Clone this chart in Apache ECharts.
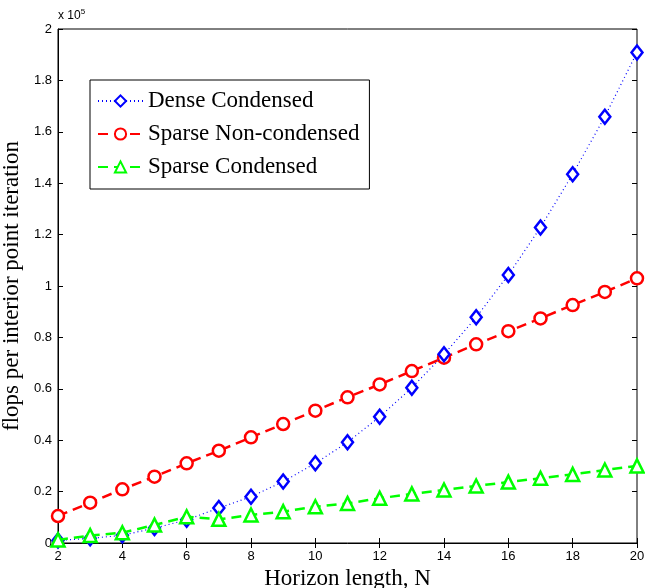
<!DOCTYPE html>
<html>
<head>
<meta charset="utf-8">
<script src="https://cdn.jsdelivr.net/npm/echarts@6/dist/echarts.min.js"></script>
<style>
  html, body { margin: 0; padding: 0; background: #fff; }
  #chart { width: 645px; height: 588px; }
</style>
</head>
<body>
<div id="chart"></div>
<script>
// horizon length N
const horizon = [2, 3, 4, 5, 6, 7, 8, 9, 10, 11, 12, 13, 14, 15, 16, 17, 18, 19, 20]

// flops per interior point iteration
const denseCondensed = [1000, 1800, 3000, 5800, 9000, 13600, 18000, 23900, 31000, 39200,
  49100, 60400, 73400, 87800, 104300, 122800, 143500, 165900, 190900]
const sparseNonCondensed = [10500, 15700, 20900, 25800, 31000, 35900, 41100, 46300, 51500, 56700,
  61700, 66900, 72100, 77300, 82400, 87400, 92600, 97700, 103000]
const sparseCondensed = [1200, 2900, 4000, 7000, 10200, 9200, 10900, 12200, 14100, 15400,
  17400, 19100, 20600, 22200, 23700, 25200, 26700, 28400, 30000]

const SERIF = '"Liberation Serif", "DejaVu Serif", serif'
const SANS = '"Liberation Sans", Arial, sans-serif'

const chart = echarts.init(document.getElementById('chart'))

const pairs = (ys) => horizon.map((x, i) => [x, ys[i]])

const tickStyle = { inside: true, length: 5, lineStyle: { color: '#000', width: 1 } }

const option = {
  animation: false,
  backgroundColor: '#fff',
  grid: {
    left: 58, right: 8, top: 29, bottom: 45,
    outerBoundsMode: 'none',
    containLabel: false,
    show: true, borderColor: '#000', borderWidth: 1, backgroundColor: 'transparent'
  },
  graphic: [{
    type: 'text',
    left: 58,
    top: 8,
    style: {
      text: 'x 10{sup|5}',
      fill: '#000',
      font: '12px ' + SANS,
      rich: { sup: { fontSize: 8, verticalAlign: 'top', padding: [0, 0, 8, 0], fontFamily: SANS } }
    }
  }],
  legend: {
    left: 90, top: 80,
    orient: 'vertical',
    itemWidth: 45, itemHeight: 14, itemGap: 9,
    padding: [9, 10, 10, 7],
    backgroundColor: '#fff',
    borderColor: '#000', borderWidth: 1,
    textStyle: { fontFamily: SERIF, fontSize: 23, lineHeight: 24, color: '#000' },
    data: ['Dense Condensed', 'Sparse Non-condensed', 'Sparse Condensed']
  },
  xAxis: [{
    type: 'value', min: 2, max: 20, interval: 2,
    name: 'Horizon length, N', nameLocation: 'middle', nameGap: 23,
    nameTextStyle: { fontFamily: SERIF, fontSize: 23, color: '#000' },
    axisLine: { show: true, lineStyle: { color: '#000' } },
    axisTick: tickStyle,
    axisLabel: { fontFamily: SANS, fontSize: 13, color: '#000', margin: 7 },
    splitLine: { show: false }
  }, {
    type: 'value', min: 2, max: 20, interval: 2, position: 'top',
    axisLine: { show: false }, axisTick: tickStyle,
    axisLabel: { show: false }, splitLine: { show: false }
  }],
  yAxis: [{
    type: 'value', min: 0, max: 200000, interval: 20000,
    name: 'flops per interior point iteration', nameLocation: 'middle', nameGap: 31,
    nameTextStyle: { fontFamily: SERIF, fontSize: 23, color: '#000' },
    axisLine: { show: true, lineStyle: { color: '#000' } },
    axisTick: tickStyle,
    axisLabel: {
      fontFamily: SANS, fontSize: 13, color: '#000', margin: 6,
      formatter: (v) => String(+(v / 1e5).toFixed(1))
    },
    splitLine: { show: false }
  }, {
    type: 'value', min: 0, max: 200000, interval: 20000, position: 'right',
    axisLine: { show: false }, axisTick: tickStyle,
    axisLabel: { show: false }, splitLine: { show: false }
  }],
  series: [{
    name: 'Dense Condensed',
    type: 'line',
    data: pairs(denseCondensed),
    symbol: 'diamond', symbolSize: [11, 14],
    lineStyle: { color: '#0000ff', width: 1.2, type: [1, 3] },
    itemStyle: { color: '#fff', borderColor: '#0000ff', borderWidth: 2.5 },
    z: 3
  }, {
    name: 'Sparse Non-condensed',
    type: 'line',
    data: pairs(sparseNonCondensed),
    symbol: 'circle', symbolSize: 12,
    lineStyle: { color: '#ff0000', width: 2.5, type: [10, 6] },
    itemStyle: { color: '#fff', borderColor: '#ff0000', borderWidth: 2.5 },
    z: 2
  }, {
    name: 'Sparse Condensed',
    type: 'line',
    data: pairs(sparseCondensed),
    symbol: 'triangle', symbolSize: 13,
    lineStyle: { color: '#00ff00', width: 2.5, type: [10, 6] },
    itemStyle: { color: '#fff', borderColor: '#00ff00', borderWidth: 2.5 },
    z: 4
  }]
}

chart.setOption(option)
</script>
</body>
</html>
